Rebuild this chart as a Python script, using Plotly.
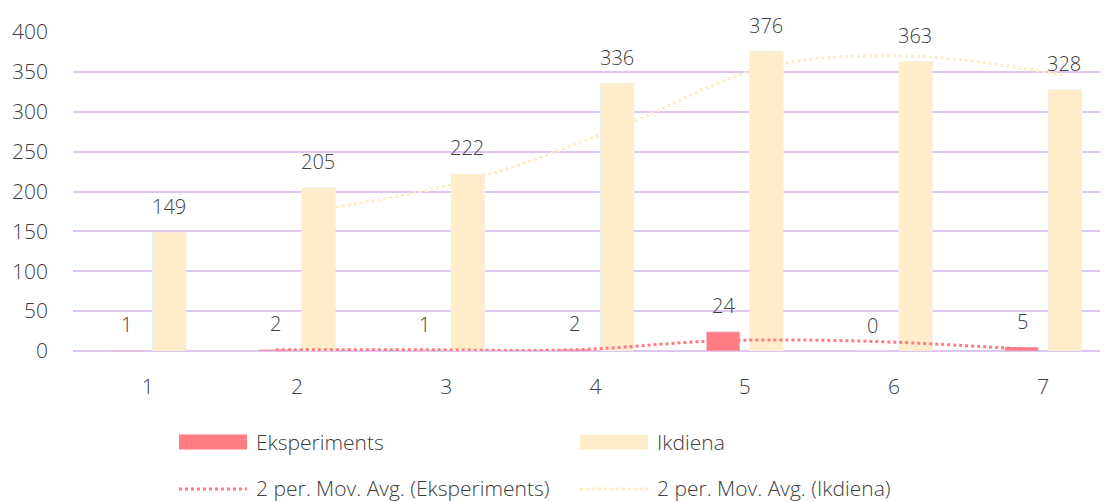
import plotly.graph_objects as go

# Days and daily counts for both groups
days = [1, 2, 3, 4, 5, 6, 7]
eksperiments = [1, 2, 1, 2, 24, 0, 5]
ikdiena = [149, 205, 222, 336, 376, 363, 328]

y_ticks = [0, 50, 100, 150, 200, 250, 300, 350, 400]

PINK = "#FF7C84"
CREAM = "#FFEDCA"
GRID = "#DEC6F0"
TEXT = "#404040"
FONT = "Open Sans"
BAR_SHIFT = 0.142  # distance of each bar centre from the day centre

W, H = 1104, 502
M_L, M_R, M_T, M_B = 73, 4, 32, 151


def moving_avg(vals, n=2):
    return [sum(vals[i - n + 1:i + 1]) / n for i in range(n - 1, len(vals))]


ma_eks = moving_avg(eksperiments)
ma_ikd = moving_avg(ikdiena)
ma_days = days[1:]

fig = go.Figure()

fig.add_trace(go.Bar(x=days, y=eksperiments, name="Eksperiments",
                     marker=dict(color=PINK), showlegend=False))
fig.add_trace(go.Bar(x=days, y=ikdiena, name="Ikdiena",
                     marker=dict(color=CREAM), showlegend=False))

# 2-period moving averages, drawn through the centre of each series' bars
fig.add_trace(go.Scatter(x=[d - BAR_SHIFT for d in ma_days], y=ma_eks, showlegend=False,
                         mode="lines", line=dict(color=PINK, width=3, dash="dot", shape="spline"),
                         name="2 per. Mov. Avg. (Eksperiments)"))
fig.add_trace(go.Scatter(x=[d + BAR_SHIFT for d in ma_days], y=ma_ikd, showlegend=False,
                         mode="lines", line=dict(color=CREAM, width=3, dash="dot", shape="spline"),
                         name="2 per. Mov. Avg. (Ikdiena)"))

# value labels above the bars
for d, v in zip(days, eksperiments):
    fig.add_annotation(x=d - BAR_SHIFT, y=v, text=str(v), showarrow=False,
                       yanchor="middle", yshift=26, font=dict(size=20, color=TEXT, family=FONT, weight=300))
for d, v in zip(days, ikdiena):
    fig.add_annotation(x=d + BAR_SHIFT, y=v, text=str(v), showarrow=False,
                       yanchor="middle", yshift=26, font=dict(size=20, color=TEXT, family=FONT, weight=300))


# legend below the chart, laid out in pixel units
def px(x):
    return (x - M_L) / (W - M_L - M_R)


def py(y):
    return (H - M_B - y) / (H - M_T - M_B)


legend_items = [
    ("Eksperiments", PINK, "box", 179, 442),
    ("Ikdiena", CREAM, "box", 580, 442),
    ("2 per. Mov. Avg. (Eksperiments)", PINK, "dot", 179, 488),
    ("2 per. Mov. Avg. (Ikdiena)", CREAM, "dot", 580, 488),
]
for label, color, kind, x0, yc in legend_items:
    if kind == "box":
        fig.add_shape(type="rect", xref="paper", yref="paper",
                      x0=px(x0), x1=px(x0 + 68), y0=py(yc - 7.5), y1=py(yc + 7.5),
                      fillcolor=color, line=dict(width=0))
    else:
        fig.add_shape(type="line", xref="paper", yref="paper",
                      x0=px(x0), x1=px(x0 + 68), y0=py(yc + 1), y1=py(yc + 1),
                      line=dict(color=color, width=3, dash="dot"))
    fig.add_annotation(xref="paper", yref="paper", x=px(x0 + 76), y=py(yc),
                       xanchor="left", yanchor="middle", text=label, showarrow=False,
                       borderpad=0, font=dict(size=21, color=TEXT, family=FONT, weight=300))

fig.update_layout(
    width=W, height=H,
    margin=dict(l=M_L, r=M_R, t=M_T, b=M_B, autoexpand=False),
    paper_bgcolor="white", plot_bgcolor="white",
    barmode="group", bargap=0.42, bargroupgap=0.224,
    showlegend=False,
    font=dict(family=FONT, size=21, color=TEXT, weight=300),
    xaxis=dict(range=[0.5, 7.38], tickvals=days, ticktext=[str(d) for d in days],
               showgrid=False, zeroline=False, showline=False,
               ticks="", ticklabelstandoff=21, tickfont=dict(size=21, color=TEXT)),
    yaxis=dict(range=[0, 400], tickvals=y_ticks, showgrid=True, gridcolor=GRID, gridwidth=2,
               zeroline=True, zerolinecolor=GRID, zerolinewidth=2, showline=False,
               ticks="", ticklabelstandoff=24, tickfont=dict(size=21, color=TEXT)),
)

fig.write_html("out.html")
